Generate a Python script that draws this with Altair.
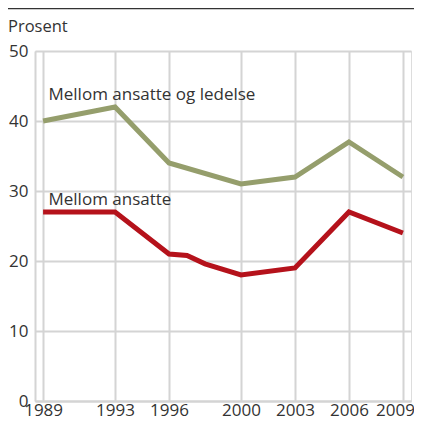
import altair as alt
import pandas as pd

years_green = [1989, 1993, 1996, 2000, 2003, 2006, 2009]
values_green = [40, 42, 34, 31, 32, 37, 32]
years_red = [1989, 1990, 1991, 1992, 1993, 1996, 1997, 1998, 2000, 2003, 2006, 2009]
values_red = [27, 27, 27, 27, 27, 21, 20.8, 19.6, 18, 19, 27, 24]
tick_years = [1989, 1993, 1996, 2000, 2003, 2006, 2009]
series_names = ["Mellom ansatte og ledelse", "Mellom ansatte"]
label_years = [1989.3, 1989.3]
label_values = [43, 28]
colors = ["#959e6c", "#b5121b"]

df = pd.concat([
    pd.DataFrame({"year": years_green, "value": values_green, "series": series_names[0]}),
    pd.DataFrame({"year": years_red, "value": values_red, "series": series_names[1]}),
])
labels = pd.DataFrame({"year": label_years, "value": label_values, "label": series_names})

FONT = "Open Sans"
x = alt.X("year:Q", scale=alt.Scale(domain=[1988.55, 2009.45], nice=False, zero=False),
          axis=alt.Axis(values=tick_years, format="d", title=None, ticks=False, labelPadding=1,
                        labelFontSize=17, labelColor="#333333", labelFont=FONT,
                        gridColor="#d4d4d4", gridWidth=2, domainColor="#d4d4d4", domainWidth=2,
                        labelFlush=False, labelOverlap=False,
                        labelOffset={"condition": {"test": "datum.value === 2009", "value": -8},
                                     "value": 0}))
y = alt.Y("value:Q", scale=alt.Scale(domain=[0, 50], nice=False),
          axis=alt.Axis(values=[0, 10, 20, 30, 40, 50], title=None, ticks=False, labelPadding=7,
                        labelFontSize=17, labelColor="#333333", labelFont=FONT,
                        gridColor="#d4d4d4", gridWidth=2, domainColor="#d4d4d4", domainWidth=2))

lines = alt.Chart(df).mark_line(strokeWidth=5).encode(
    x=x, y=y,
    color=alt.Color("series:N", scale=alt.Scale(domain=series_names, range=colors), legend=None),
    detail="series:N",
)

text = alt.Chart(labels).mark_text(align="left", baseline="alphabetic", fontSize=17, font=FONT,
                                   color="#333333").encode(x="year:Q", y="value:Q", text="label:N")

title = alt.Chart(pd.DataFrame({"t": ["Prosent"]})).mark_text(
    align="left", baseline="alphabetic", fontSize=16.5, font=FONT, color="#333333"
).encode(x=alt.value(-27), y=alt.value(-19), text="t:N")

top_rule = alt.Chart(pd.DataFrame({"a": [0]})).mark_rule(color="#333333", strokeWidth=1.5).encode(
    x=alt.value(-27), x2=alt.value(380), y=alt.value(-42.5)
)

chart = alt.layer(lines, text, title, top_rule).properties(
    width=376, height=350,
    autosize=alt.AutoSizeParams(type="none"),
    padding={"left": 27, "top": 43, "right": 3, "bottom": 16},
).configure_view(stroke="#d4d4d4", strokeWidth=2).configure(background="white")

chart.save("out.html", embed_options={"renderer": "svg", "actions": False})
